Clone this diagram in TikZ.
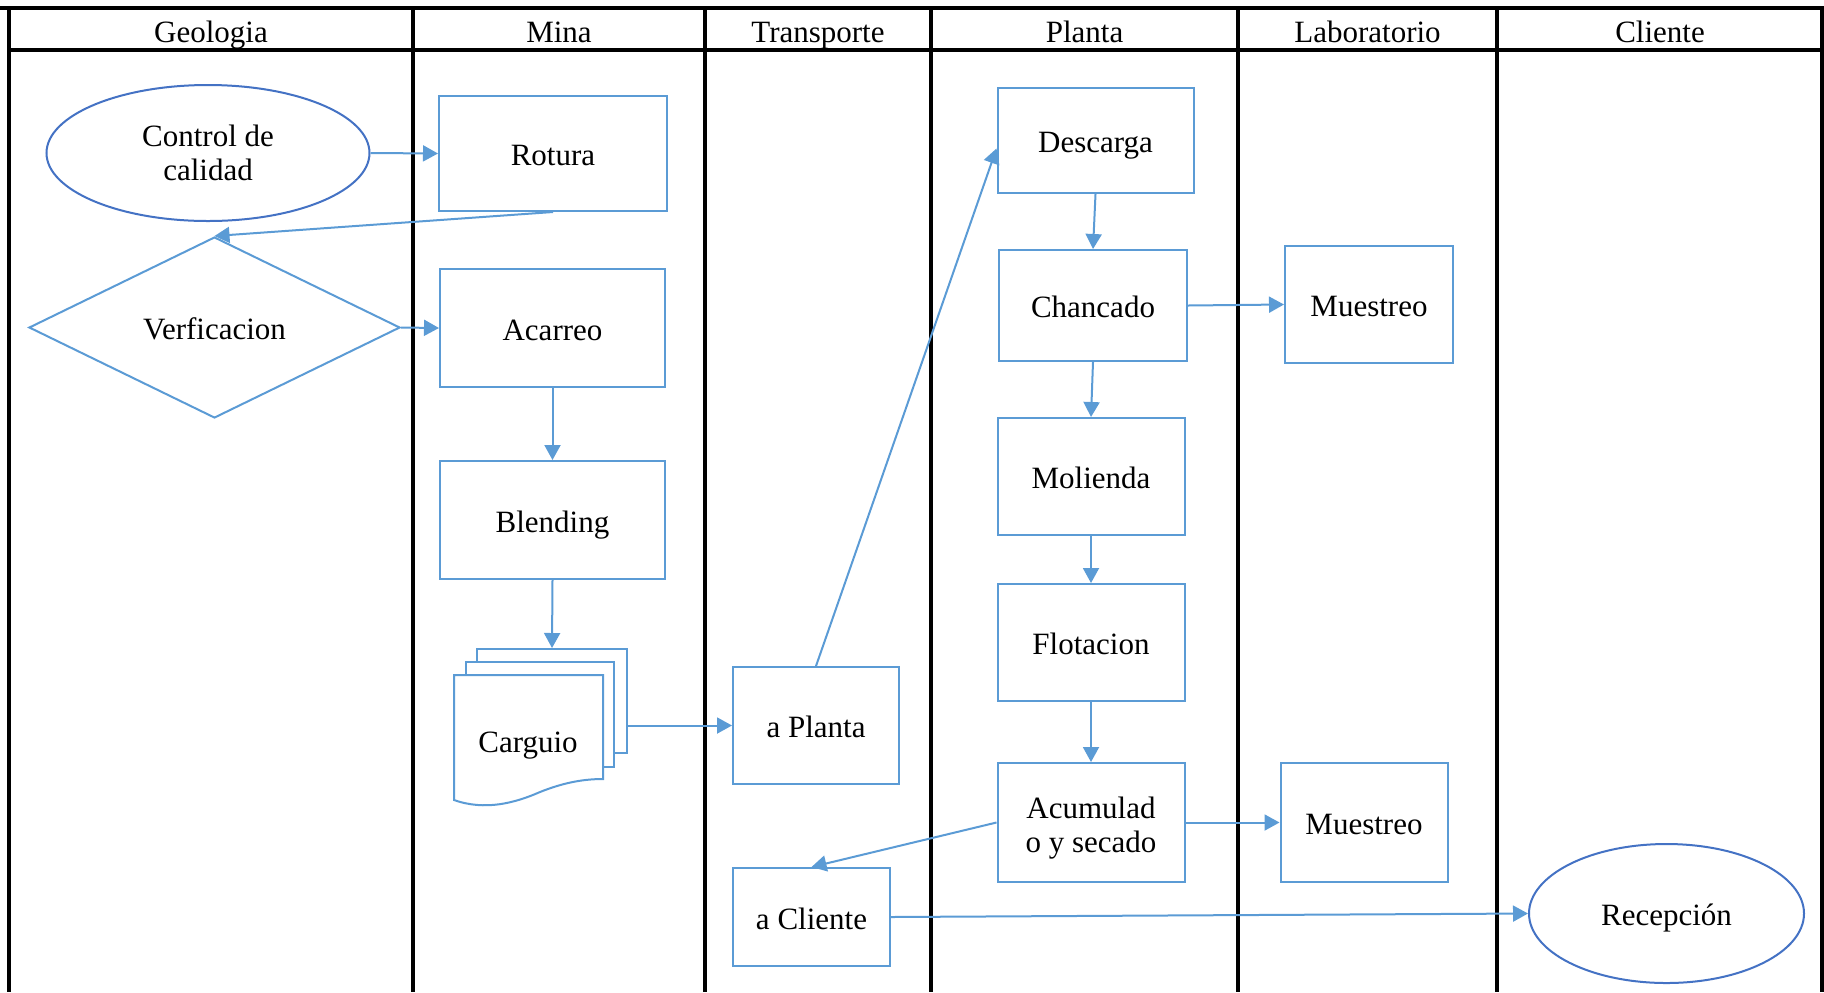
\documentclass[tikz,border=0pt]{standalone}
\usepackage{fontspec}
\setmainfont{Liberation Serif}
\usetikzlibrary{shapes.geometric,arrows.meta,calc}
\definecolor{boxblue}{HTML}{5B9BD5}
\definecolor{ellblue}{HTML}{4472C4}
\begin{document}
\begin{tikzpicture}[x=0.5pt,y=-0.5pt,
  font=\fontsize{15.5}{17}\selectfont,
  lane/.style={line width=2pt, draw=black},
  box/.style={rectangle, draw=boxblue, line width=1pt, fill=white, inner sep=2pt, align=center},
  one/.style={text height=12.4pt, text depth=0pt},
  ell/.style={ellipse, draw=ellblue, line width=1pt, fill=white, inner sep=0pt, align=center},
  dia/.style={diamond, draw=boxblue, line width=1pt, fill=white, inner sep=0pt, shape aspect=2, align=center},
  arr/.style={draw=boxblue, line width=1pt, -{Triangle[length=7.5pt,width=8pt]}},
  hdr/.style={inner sep=0pt, anchor=base}]
\useasboundingbox (0,0) rectangle (1824,992);
% lanes
\draw[lane] (0,8) -- (1824,8);
\draw[lane] (9,50) -- (1824,50);
\foreach \x in {9,413,705,931,1238,1497,1822}
  \draw[lane] (\x,8) -- (\x,992);
% headers
\node[hdr] (hgeo) at (211,42) {Geologia};
\node[hdr] (hmina) at (559,42) {Mina};
\node[hdr] (htrans) at (818,42) {Transporte};
\node[hdr] (hplanta) at (1084.5,42) {Planta};
\node[hdr] (hlab) at (1367.5,42) {Laboratorio};
\node[hdr] (hcli) at (1660,42) {Cliente};
% Geologia
\node[ell, minimum width=161.5pt, minimum height=68pt] (control) at (208,153) {Control de\\calidad};
\node[dia, one, minimum width=185.5pt, minimum height=90.5pt] (verif) at (214.5,327.5) {Verficacion};
% Mina
\node[box, one, minimum width=114pt, minimum height=57.5pt] (rotura) at (553,153.5) {Rotura};
\node[box, one, minimum width=112.5pt, minimum height=59pt] (acarreo) at (552.5,328) {Acarreo};
\node[box, one, minimum width=112.5pt, minimum height=59pt] (blending) at (552.5,520) {Blending};
\node[box, minimum width=75pt, minimum height=52pt] (cargback) at (552,701) {};
\node[box, minimum width=74pt, minimum height=52.5pt] (cargmid) at (540,714.5) {};
\draw[draw=boxblue, line width=1pt, fill=white]
  (603,779) -- (603,675) -- (454,675) -- (454,800)
  .. controls (485,811) and (515,803) .. (540,792)
  .. controls (565,782) and (585,779) .. (603,779) -- cycle;
\node[inner sep=0pt, one] (carguio) at (528,740) {Carguio};
% Transporte
\node[box, one, minimum width=83pt, minimum height=58.5pt] (aplanta) at (816,725.5) {a Planta};
\node[box, one, minimum width=78.5pt, minimum height=49pt] (acliente) at (811.5,917) {a Cliente};
% Planta
\node[box, one, minimum width=98pt, minimum height=52.5pt] (descarga) at (1095.5,140.5) {Descarga};
\node[box, one, minimum width=94pt, minimum height=55.5pt] (chancado) at (1093,305.5) {Chancado};
\node[box, one, minimum width=93.5pt, minimum height=58.5pt] (molienda) at (1091,476.5) {Molienda};
\node[box, one, minimum width=93.5pt, minimum height=58.5pt] (flotacion) at (1091,642.5) {Flotacion};
\node[box, minimum width=93.5pt, minimum height=59.5pt] (acum) at (1091,822.5) {};
\node[inner sep=0pt, align=center] (acumtext) at (1091,828.5) {Acumulad\\o y secado};
% Laboratorio
\node[box, one, minimum width=84pt, minimum height=58.5pt] (muestreo1) at (1369,304.5) {Muestreo};
\node[box, one, minimum width=83.5pt, minimum height=59.5pt] (muestreo2) at (1364,822.5) {Muestreo};
% Cliente
\node[ell, one, minimum width=137.5pt, minimum height=69.5pt] (recepcion) at (1666.5,913.5) {Recepción};
% connectors
\draw[arr] (control.east) -- (rotura.west);
\draw[arr] (rotura.south) -- (verif.north);
\draw[arr] (verif.east) -- (acarreo.west);
\draw[arr] (acarreo.south) -- (blending.north);
\draw[arr] (blending.south) -- (cargback.north);
\draw[arr] (cargback.east |- aplanta.west) -- (aplanta.west);
\draw[arr] (aplanta.north) -- ($(descarga.west)+(0,8)$);
\draw[arr] (descarga.south) -- (chancado.north);
\draw[arr] (chancado.east) -- (muestreo1.west);
\draw[arr] (chancado.south) -- (molienda.north);
\draw[arr] (molienda.south) -- (flotacion.north);
\draw[arr] (flotacion.south) -- (acum.north);
\draw[arr] (acum.east) -- (muestreo2.west);
\draw[arr] (acum.west) -- (acliente.north);
\draw[arr] (acliente.east) -- (recepcion.west);
\end{tikzpicture}
\end{document}
